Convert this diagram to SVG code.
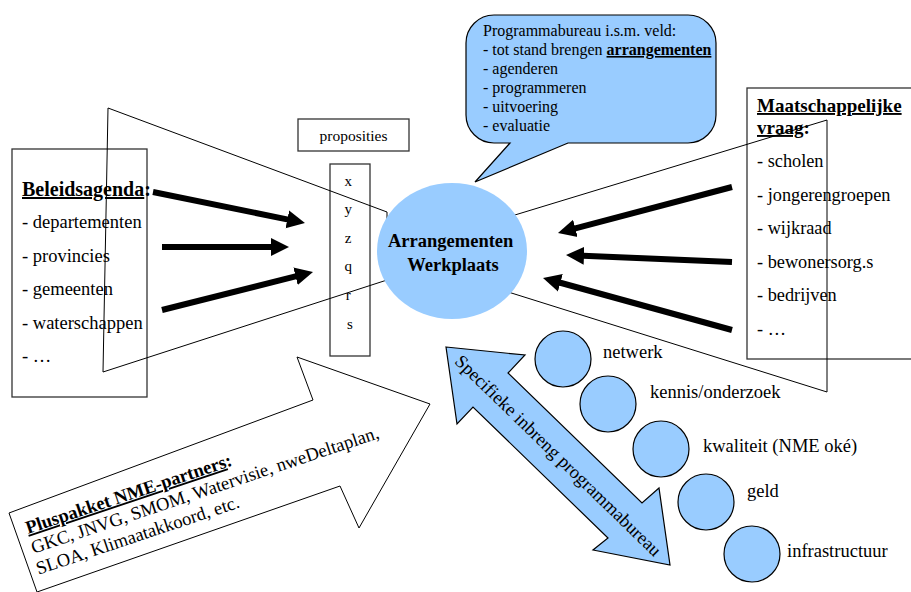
<svg xmlns="http://www.w3.org/2000/svg" width="911" height="592" viewBox="0 0 911 592">
<style>
.t{font-family:"Liberation Serif","Times New Roman",serif;fill:#000}
.box{fill:none;stroke:#333;stroke-width:1.3}
.fun{fill:none;stroke:#000;stroke-width:1}
.blue{fill:#99CCFF;stroke:#000;stroke-width:1.2}
.thick{stroke:#000;stroke-width:6;fill:none}
.u{text-decoration:underline}
</style>
<defs>
<marker id="ah" viewBox="0 -10 20 20" refX="1" refY="0" markerWidth="20" markerHeight="20" markerUnits="userSpaceOnUse" orient="auto">
<path d="M0,-9 L18,0 L0,9 Z" fill="#000"/>
</marker>
</defs>
<rect width="911" height="592" fill="#fff"/>

<g id="beleidsagenda">
<rect class="box" x="12" y="149" width="135" height="248"/>
<text class="t" x="22" y="196" font-size="20" font-weight="bold"><tspan class="u">Beleidsagenda</tspan>:</text>
<text class="t" font-size="18.5">
<tspan x="22" y="228">- departementen</tspan>
<tspan x="22" y="262">- provincies</tspan>
<tspan x="22" y="295">- gemeenten</tspan>
<tspan x="22" y="329">- waterschappen</tspan>
<tspan x="22" y="362">-  …</tspan>
</text>
</g>

<g id="proposities">
<rect class="box" x="298" y="119" width="111" height="32"/>
<text class="t" x="353.5" y="141" font-size="15.5" text-anchor="middle">proposities</text>
</g>

<g id="xyzqrs">
<rect class="box" x="330" y="164" width="40" height="192"/>
<text class="t" font-size="15" text-anchor="middle">
<tspan x="350" y="186">x</tspan>
<tspan x="350" y="214">y</tspan>
<tspan x="350" y="243">z</tspan>
<tspan x="350" y="271">q</tspan>
<tspan x="350" y="300">r</tspan>
<tspan x="350" y="329">s</tspan>
</text>
</g>

<g id="maatschappelijke-vraag">
<rect class="box" x="747" y="88" width="170" height="271"/>
<text class="t" font-size="19" font-weight="bold">
<tspan class="u" x="757" y="112">Maatschappelijke</tspan>
<tspan x="757" y="134"><tspan class="u">vraag</tspan>:</tspan>
</text>
<text class="t" font-size="18.3">
<tspan x="757" y="167">- scholen</tspan>
<tspan x="757" y="201">- jongerengroepen</tspan>
<tspan x="757" y="234">- wijkraad</tspan>
<tspan x="757" y="268">- bewonersorg.s</tspan>
<tspan x="757" y="301">- bedrijven</tspan>
<tspan x="757" y="335">- …</tspan>
</text>
</g>

<g id="funnels">
<polygon class="fun" points="108,108 387,212 387,280 103,372"/>
<polygon class="fun" points="827,120 827,392 505,291 505,218"/>
</g>

<g id="werkplaats">
<ellipse cx="452" cy="251" rx="75" ry="68" fill="#99CCFF"/>
<text class="t" font-size="18.5" font-weight="bold" text-anchor="middle">
<tspan x="453" y="247">Arrangementen</tspan>
<tspan x="453" y="271">Werkplaats</tspan>
</text>
</g>

<g id="programmabureau">
<path class="blue" d="M494,15 H688 A28,28 0 0 1 716,43 V115 A28,28 0 0 1 688,143 H568 L475,182 L510,143 H494 A28,28 0 0 1 466,115 V43 A28,28 0 0 1 494,15 Z"/>
<text class="t" font-size="16">
<tspan x="483" y="36">Programmabureau i.s.m. veld:</tspan>
<tspan x="483" y="55">- tot stand brengen <tspan class="u" font-weight="bold">arrangementen</tspan></tspan>
<tspan x="483" y="74">- agenderen</tspan>
<tspan x="483" y="93">- programmeren</tspan>
<tspan x="483" y="112">- uitvoering</tspan>
<tspan x="483" y="131">- evaluatie</tspan>
</text>
</g>

<g id="connectors">
<line class="thick" x1="153" y1="192" x2="288.3" y2="219.6" marker-end="url(#ah)"/>
<line class="thick" x1="162" y1="247" x2="272" y2="247" marker-end="url(#ah)"/>
<line class="thick" x1="162" y1="310" x2="296.5" y2="276.1" marker-end="url(#ah)"/>
<line class="thick" x1="732" y1="187" x2="574.4" y2="228.6" marker-end="url(#ah)"/>
<line class="thick" x1="732" y1="262" x2="583" y2="255.7" marker-end="url(#ah)"/>
<line class="thick" x1="732" y1="330" x2="559.4" y2="282.5" marker-end="url(#ah)"/>
</g>

<g id="pluspakket">
<polygon points="9,513 313,400 297,357 430,404 359,528 340,486 37,592" fill="#fff" stroke="#000" stroke-width="1"/>
<g transform="translate(28,534) rotate(-18.5)">
<text class="t" font-size="18.5">
<tspan x="0" y="0" font-weight="bold"><tspan class="u">Pluspakket NME-partners</tspan>:</tspan>
<tspan x="-1" y="20.5">GKC, JNVG, SMOM, Watervisie, nweDeltaplan,</tspan>
<tspan x="-3" y="42">SLOA, Klimaatakkoord, etc.</tspan>
</text>
</g>
</g>

<g id="specifieke-inbreng">
<polygon class="blue" points="446,347 525,355 508,373 642,503 659,488 670,565 593,550 608,538 473,407 457,424"/>
<text class="t" font-size="18.5" text-anchor="middle" transform="translate(554,460) rotate(44.2)" x="0" y="0">Specifieke inbreng programmabureau</text>
</g>

<g id="netwerk">
<circle class="blue" cx="563" cy="359" r="28"/>
<text class="t" x="603" y="358" font-size="18.5">netwerk</text>
</g>
<g id="kennis">
<circle class="blue" cx="608" cy="404" r="28"/>
<text class="t" x="650" y="398" font-size="18.5">kennis/onderzoek</text>
</g>
<g id="kwaliteit">
<circle class="blue" cx="661" cy="449" r="28"/>
<text class="t" x="703" y="452" font-size="18.5">kwaliteit (NME oké)</text>
</g>
<g id="geld">
<circle class="blue" cx="706" cy="502" r="28"/>
<text class="t" x="747" y="497" font-size="18.5">geld</text>
</g>
<g id="infrastructuur">
<circle class="blue" cx="752" cy="554" r="28"/>
<text class="t" x="787" y="557" font-size="18.5">infrastructuur</text>
</g>
</svg>
